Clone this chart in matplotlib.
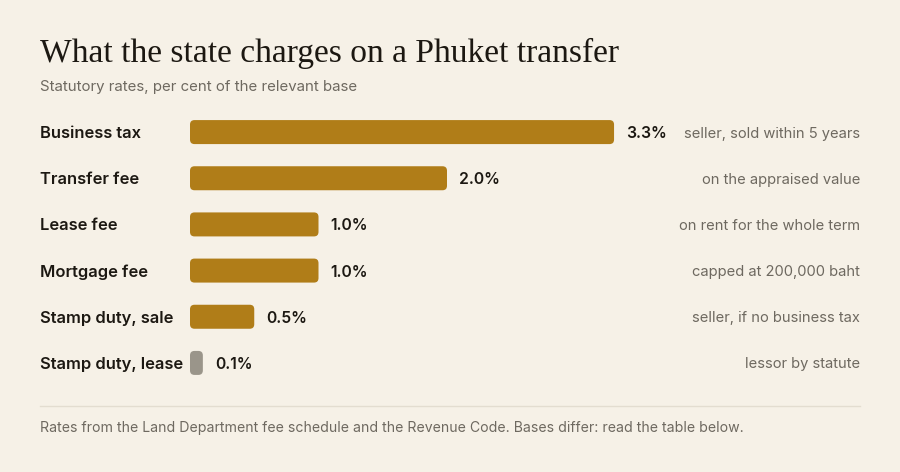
import matplotlib.pyplot as plt
import matplotlib.transforms as mtransforms
from matplotlib.patches import FancyBboxPatch
from matplotlib.lines import Line2D

categories = ["Business tax", "Transfer fee", "Lease fee", "Mortgage fee",
              "Stamp duty, sale", "Stamp duty, lease"]
rates = [3.3, 2.0, 1.0, 1.0, 0.5, 0.1]
rate_labels = ["3.3%", "2.0%", "1.0%", "1.0%", "0.5%", "0.1%"]
notes = ["seller, sold within 5 years", "on the appraised value",
         "on rent for the whole term", "capped at 200,000 baht",
         "seller, if no business tax", "lessor by statute"]

BG = "#f6f1e7"
GOLD = "#b07d18"
GREY_BAR = "#9a958a"
INK = "#1c1812"
MUTED = "#6e6960"

plt.rcParams['font.family'] = ['Inter', 'DejaVu Sans']

W, H = 900, 472
fig = plt.figure(figsize=(W / 100, H / 100), dpi=100, facecolor=BG)

# axes placed so 0% sits at x=190px and the right edge at 860px
ax_left, ax_right, ax_top, ax_bot = 190, 860, 109, 386
ax = fig.add_axes([ax_left / W, 1 - ax_bot / H, (ax_right - ax_left) / W,
                   (ax_bot - ax_top) / H])
ax.set_facecolor(BG)
px_per_unit = 128.5
ax.set_xlim(0, (ax_right - ax_left) / px_per_unit)
ax.set_ylim(len(categories) - 0.5, -0.5)
ax.axis("off")

row_px = (ax_bot - ax_top) / len(categories)
bar_h = 24 / row_px
aspect = px_per_unit / row_px
nudge = 1.5 / row_px  # text sits a touch low in the reference

for i, (v, lab, note) in enumerate(zip(rates, rate_labels, notes)):
    color = GREY_BAR if v < 0.2 else GOLD
    r = min(4.5, v * px_per_unit / 2) / px_per_unit
    patch = FancyBboxPatch((0, i - bar_h / 2), v, bar_h,
                           boxstyle=f"round,pad=0,rounding_size={r}",
                           mutation_aspect=aspect, facecolor=color,
                           edgecolor="none")
    ax.add_patch(patch)
    ax.text(v + 12 / px_per_unit, i + nudge, lab, ha="left", va="center",
            fontsize=11.3, fontweight="semibold", color=INK)
    ax.text(1.0, i + nudge, note, transform=mtransforms.blended_transform_factory(
        ax.transAxes, ax.transData), ha="right", va="center",
        fontsize=10.6, color=MUTED)

label_tr = mtransforms.blended_transform_factory(fig.transFigure, ax.transData)
for i, cat in enumerate(categories):
    ax.text(40 / W, i + nudge, cat, transform=label_tr, ha="left", va="center",
            fontsize=11.9, fontweight="semibold", color=INK)

fig.text(40 / W, 1 - 53 / H, "What the state charges on a Phuket transfer",
         ha="left", va="center", fontsize=24.1, color=INK,
         family=["Liberation Serif", "DejaVu Serif"])
fig.text(40 / W, 1 - 87 / H, "Statutory rates, per cent of the relevant base",
         ha="left", va="center", fontsize=10.8, color=MUTED)

fig.add_artist(Line2D([40 / W, 860 / W], [1 - 406 / H, 1 - 406 / H],
                      transform=fig.transFigure, color="#e3ddd0", lw=1))
fig.text(40 / W, 1 - 428 / H,
         "Rates from the Land Department fee schedule and the Revenue Code. "
         "Bases differ: read the table below.",
         ha="left", va="center", fontsize=10.15, color=MUTED)

fig.savefig("out.png", dpi=100, facecolor=BG)
